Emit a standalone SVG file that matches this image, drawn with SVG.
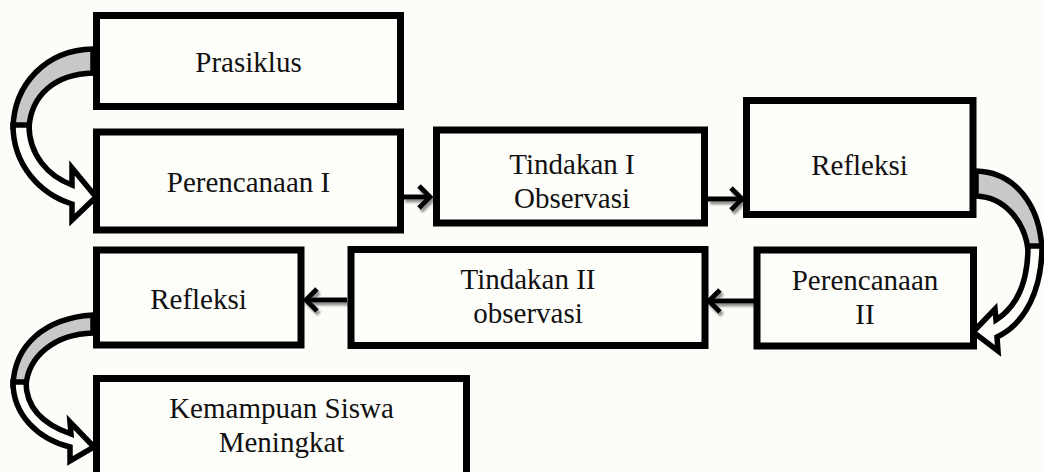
<svg xmlns="http://www.w3.org/2000/svg" width="1044" height="472" viewBox="0 0 1044 472">
<style>
.box{fill:#fdfdfa;stroke:#000;stroke-width:7}
.t{font-family:"Liberation Serif","Times New Roman",serif;font-size:29px;fill:#111;text-anchor:middle}
.ln{stroke:#000;stroke-width:5;fill:none}
.back{fill:#c8c9c6;stroke:#000;stroke-width:5.5;stroke-linejoin:round}
.front{fill:#fdfdfa;stroke:#000;stroke-width:5.5;stroke-linejoin:miter}
</style>
<defs>
<marker id="chev" markerUnits="userSpaceOnUse" markerWidth="30" markerHeight="30" viewBox="-20 -15 25 30" refX="0" refY="0" orient="auto">
<path d="M-12,-11 L-1,0 L-12,11" fill="none" stroke="#000" stroke-width="5"/>
</marker>
<filter id="sh" x="-30%" y="-50%" width="160%" height="200%">
<feDropShadow dx="2" dy="3" stdDeviation="1.2" flood-color="#777" flood-opacity="0.8"/>
</filter>
</defs>
<rect width="1044" height="472" fill="#fcfcf8"/>

<g id="connectors">
<g filter="url(#sh)">
<line class="ln" x1="403" y1="197" x2="431" y2="197" marker-end="url(#chev)"/>
<line class="ln" x1="708" y1="199" x2="743" y2="199" marker-end="url(#chev)"/>
<line class="ln" x1="754" y1="301" x2="708" y2="301" marker-end="url(#chev)"/>
<line class="ln" x1="347" y1="300" x2="305" y2="300" marker-end="url(#chev)"/>
</g>
<g id="curve1">
<path class="back" d="M93,49 C45,50 14,85 13,128 L29,128 C31,95 55,74 93,73 Z"/>
<path class="front" d="M13,125 C13,165 40,194 72,204 L72,220 L96,197 L72,168 L72,185 C48,176 29,155 29,125 Z"/>
</g>
<g id="curve2">
<path class="back" d="M976,171 C1015,172 1040,205 1042,250 L1028,250 C1025,222 1005,197 976,196 Z"/>
<path class="front" d="M1042,246 C1042,290 1025,324 997,337 L998,351 L973,332 L995,309 L996,320 C1015,308 1028,285 1028,246 Z"/>
</g>
<g id="curve3">
<path class="back" d="M93,315 C45,318 14,345 13,386 L26,386 C28,356 55,334 93,333 Z"/>
<path class="front" d="M13,382 C13,415 38,439 70,447 L70,461 L94,447 L70,422 L71,434 C45,425 26,410 26,382 Z"/>
</g>
</g>

<g id="prasiklus"><rect class="box" x="96.5" y="15.5" width="304" height="91"/><text class="t" x="248.5" y="72">Prasiklus</text></g>
<g id="perencanaan1"><rect class="box" x="96.5" y="132" width="304" height="98"/><text class="t" x="248.5" y="192">Perencanaan I</text></g>
<g id="tindakan1"><rect class="box" x="436.5" y="130" width="268" height="93"/><text class="t" x="572" y="174">Tindakan I</text><text class="t" x="572" y="208">Observasi</text></g>
<g id="refleksi1"><rect class="box" x="746.5" y="100.5" width="226.5" height="114"/><text class="t" x="859.5" y="175">Refleksi</text></g>
<g id="perencanaan2"><rect class="box" x="757" y="250" width="216.5" height="96"/><text class="t" x="865" y="290">Perencanaan</text><text class="t" x="865" y="324">II</text></g>
<g id="tindakan2"><rect class="box" x="351" y="249.5" width="354" height="96"/><text class="t" x="528" y="289">Tindakan II</text><text class="t" x="528" y="323">observasi</text></g>
<g id="refleksi2"><rect class="box" x="96.5" y="250" width="204.5" height="95"/><text class="t" x="198.5" y="309">Refleksi</text></g>
<g id="kemampuan"><rect class="box" x="96.5" y="378.5" width="370" height="110"/><text class="t" x="281.5" y="418">Kemampuan Siswa</text><text class="t" x="281.5" y="452">Meningkat</text></g>
</svg>
